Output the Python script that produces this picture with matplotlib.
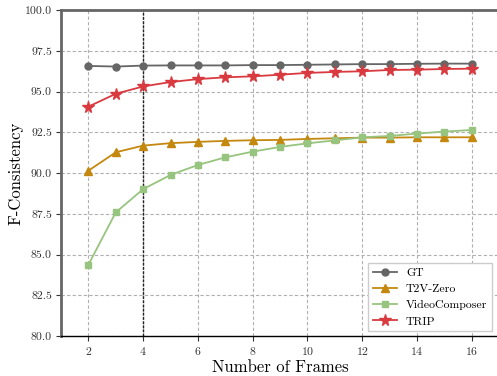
import matplotlib
matplotlib.use('Agg')
import matplotlib.pyplot as plt

plt.rcParams['font.family'] = 'serif'
plt.rcParams['font.serif'] = ['cmr10']
plt.rcParams['axes.formatter.use_mathtext'] = True
plt.rcParams['mathtext.fontset'] = 'cm'

frames = list(range(2, 17))
gt = [96.57, 96.53, 96.59, 96.6, 96.6, 96.6, 96.62, 96.62, 96.64, 96.66, 96.68, 96.68, 96.7, 96.71, 96.71]
t2v_zero = [90.14, 91.27, 91.68, 91.83, 91.91, 91.97, 92.01, 92.03, 92.09, 92.13, 92.17, 92.17, 92.19, 92.19, 92.19]
videocomposer = [84.37, 87.58, 89.01, 89.88, 90.49, 90.96, 91.31, 91.6, 91.82, 92.0, 92.19, 92.27, 92.42, 92.54, 92.64]
trip = [94.07, 94.86, 95.31, 95.58, 95.76, 95.87, 95.93, 96.03, 96.14, 96.2, 96.24, 96.32, 96.34, 96.38, 96.4]

x_ticks = [2, 4, 6, 8, 10, 12, 14, 16]
y_ticks = [80.0, 82.5, 85.0, 87.5, 90.0, 92.5, 95.0, 97.5, 100.0]

fig = plt.figure(figsize=(4.97, 3.76), dpi=100)
ax = fig.add_axes([61 / 497, 40 / 376, 438 / 497, 326 / 376])

ax.plot(frames, gt, color='#666666', marker='o', markersize=5, linewidth=1.3, label='GT', zorder=3)
ax.plot(frames, t2v_zero, color='#C4880F', marker='^', markersize=5.5, linewidth=1.3, label='T2V-Zero', zorder=3)
ax.plot(frames, videocomposer, color='#97C47E', marker='s', markersize=5, linewidth=1.3, label='VideoComposer', zorder=3)
ax.plot(frames, trip, color='#D93A40', marker='*', markersize=8.5, linewidth=1.3, label='TRIP', zorder=3)

# linea vertical en 4 frames
ax.axvline(4, color='#222222', linestyle=(0, (2, 1)), linewidth=1.0, zorder=2)

ax.set_xlim(1, 17)
ax.set_ylim(80, 100)
ax.set_xticks(x_ticks)
ax.set_yticks(y_ticks)
ax.set_yticklabels(['%.1f' % v for v in y_ticks])
ax.grid(True, color='#b0b0b0', linestyle=(0, (3, 2)), linewidth=0.8, zorder=0)

ax.spines['left'].set_color('#666666')
ax.spines['left'].set_linewidth(2)
ax.spines['top'].set_color('#666666')
ax.spines['top'].set_linewidth(2)
ax.spines['bottom'].set_color('black')
ax.spines['bottom'].set_linewidth(1)
ax.spines['right'].set_visible(False)

ax.tick_params(axis='both', labelsize=8.5, colors='#333333', pad=3)
ax.set_xlabel('Number of Frames', fontsize=12, labelpad=2)
ax.set_ylabel('F-Consistency', fontsize=12, labelpad=1)

ax.legend(loc='lower right', fontsize=8.5, bbox_to_anchor=(0.995, 0.0), fancybox=False, framealpha=1,
          edgecolor='#cccccc', handlelength=2.0, borderaxespad=0.4)

plt.savefig('out.png', dpi=100)
